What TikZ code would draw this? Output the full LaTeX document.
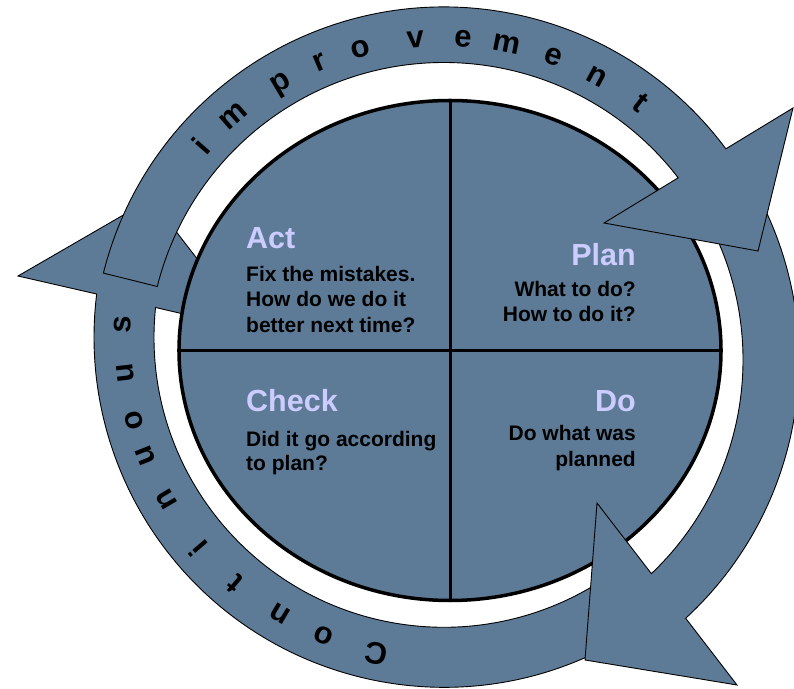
\documentclass[tikz,border=0pt]{standalone}
\usepackage{fontspec}
\setmainfont{Liberation Sans}
\usetikzlibrary{shapes.geometric,calc}
\definecolor{band}{RGB}{93,123,150}
\definecolor{titlecol}{RGB}{204,204,255}
\begin{document}
\begin{tikzpicture}[x=1pt,y=1pt,
  bandshape/.style={fill=band, draw=black, line width=0.9pt, line join=miter},
  ringletter/.style={font=\fontsize{31}{31}\selectfont\bfseries, inner sep=0pt, anchor=base},
  titletext/.style={font=\fontsize{30.5}{32}\selectfont\bfseries, text=titlecol, inner sep=0pt},
  bodytext/.style={font=\fontsize{21}{25}\selectfont\bfseries, text=black, inner sep=0pt},
  divider/.style={draw=black, line width=3pt}
]
\useasboundingbox (0,0) rectangle (794,688);
\coordinate (ci) at (444,330);
\coordinate (cr) at (448,328);
\coordinate (cc) at (444,350.7);

% continuous band with left arrowhead
\draw[bandshape] ($(cc)+(-56:350pt)$) arc[start angle=-56, end angle=-187.1, radius=350pt]
  -- (18,412) -- (151,489) -- (252,358)
  -- ($(cc)+(-185.9:290pt)$) arc[start angle=-185.9, end angle=-56, radius=290pt] -- cycle;

% central wheel
\node[ellipse, draw=black, fill=band, line width=3.5pt, minimum width=542pt, minimum height=500pt, inner sep=0pt] (wheel) at (450,337.5) {};
\draw[divider] (wheel.north) -- (wheel.south);
\draw[divider] (wheel.west) -- (wheel.east);

% right band with Do arrowhead
\draw[bandshape] ($(cr)+(30:351pt)$) arc[start angle=30, end angle=-47.38, radius=351pt]
  -- (737,3) -- (585,28) -- (597,185)
  -- ($(cr)+(-46.41:295pt)$) arc[start angle=-46.41, end angle=30, radius=295pt] -- cycle;

% improvement band with upper right arrowhead
\draw[bandshape] ($(ci)+(166:351pt)$) arc[start angle=166, end angle=36.58, radius=351pt]
  -- (793,580) -- (758,437) -- (604,465)
  -- ($(ci)+(37.58:295.5pt)$) arc[start angle=37.58, end angle=166, radius=295.5pt] -- cycle;

% ring letters
\foreach \a/\l [evaluate=\a as \rot using \a-90, count=\k] in
  {138.9/i,131.1/m,120.7/p,112.8/r,105.1/o,95.1/v,86.6/e,78.8/m,70.1/e,61.5/n,52.4/t}
  \node[ringletter, rotate=\rot] (imp\k) at ($(ci)+(\a:312pt)$) {\l};
\foreach \a/\l [evaluate=\a as \rot using \a-90, count=\k] in
  {-102.1/C,-112.0/o,-120.7/n,-130.3/t,-139.4/i,-149.7/n,-158.3/u,-164.9/o,-173.6/u,-182.2/s}
  \node[ringletter, rotate=\rot] (con\k) at ($(cc)+(\a:313pt)$) {\l};

% quadrant texts
\node[titletext, anchor=base west] (act) at (246,439.5) {Act};
\node[bodytext, anchor=base west] (act1) at (246,406.5) {Fix the mistakes.};
\node[bodytext, anchor=base west] (act2) at (246,381) {How do we do it};
\node[bodytext, anchor=base west] (act3) at (246,355.5) {better next time?};

\node[titletext, anchor=base east] (plan) at (636,422) {Plan};
\node[bodytext, anchor=base east] (plan1) at (636,391) {What to do?};
\node[bodytext, anchor=base east] (plan2) at (636,366) {How to do it?};

\node[titletext, anchor=base west] (check) at (246,276) {Check};
\node[bodytext, anchor=base west] (check1) at (246,241.5) {Did it go according};
\node[bodytext, anchor=base west] (check2) at (246,217) {to plan?};

\node[titletext, anchor=base east] (do) at (636,276) {Do};
\node[bodytext, anchor=base east] (do1) at (636,247) {Do what was};
\node[bodytext, anchor=base east] (do2) at (636,222) {planned};
\end{tikzpicture}
\end{document}
